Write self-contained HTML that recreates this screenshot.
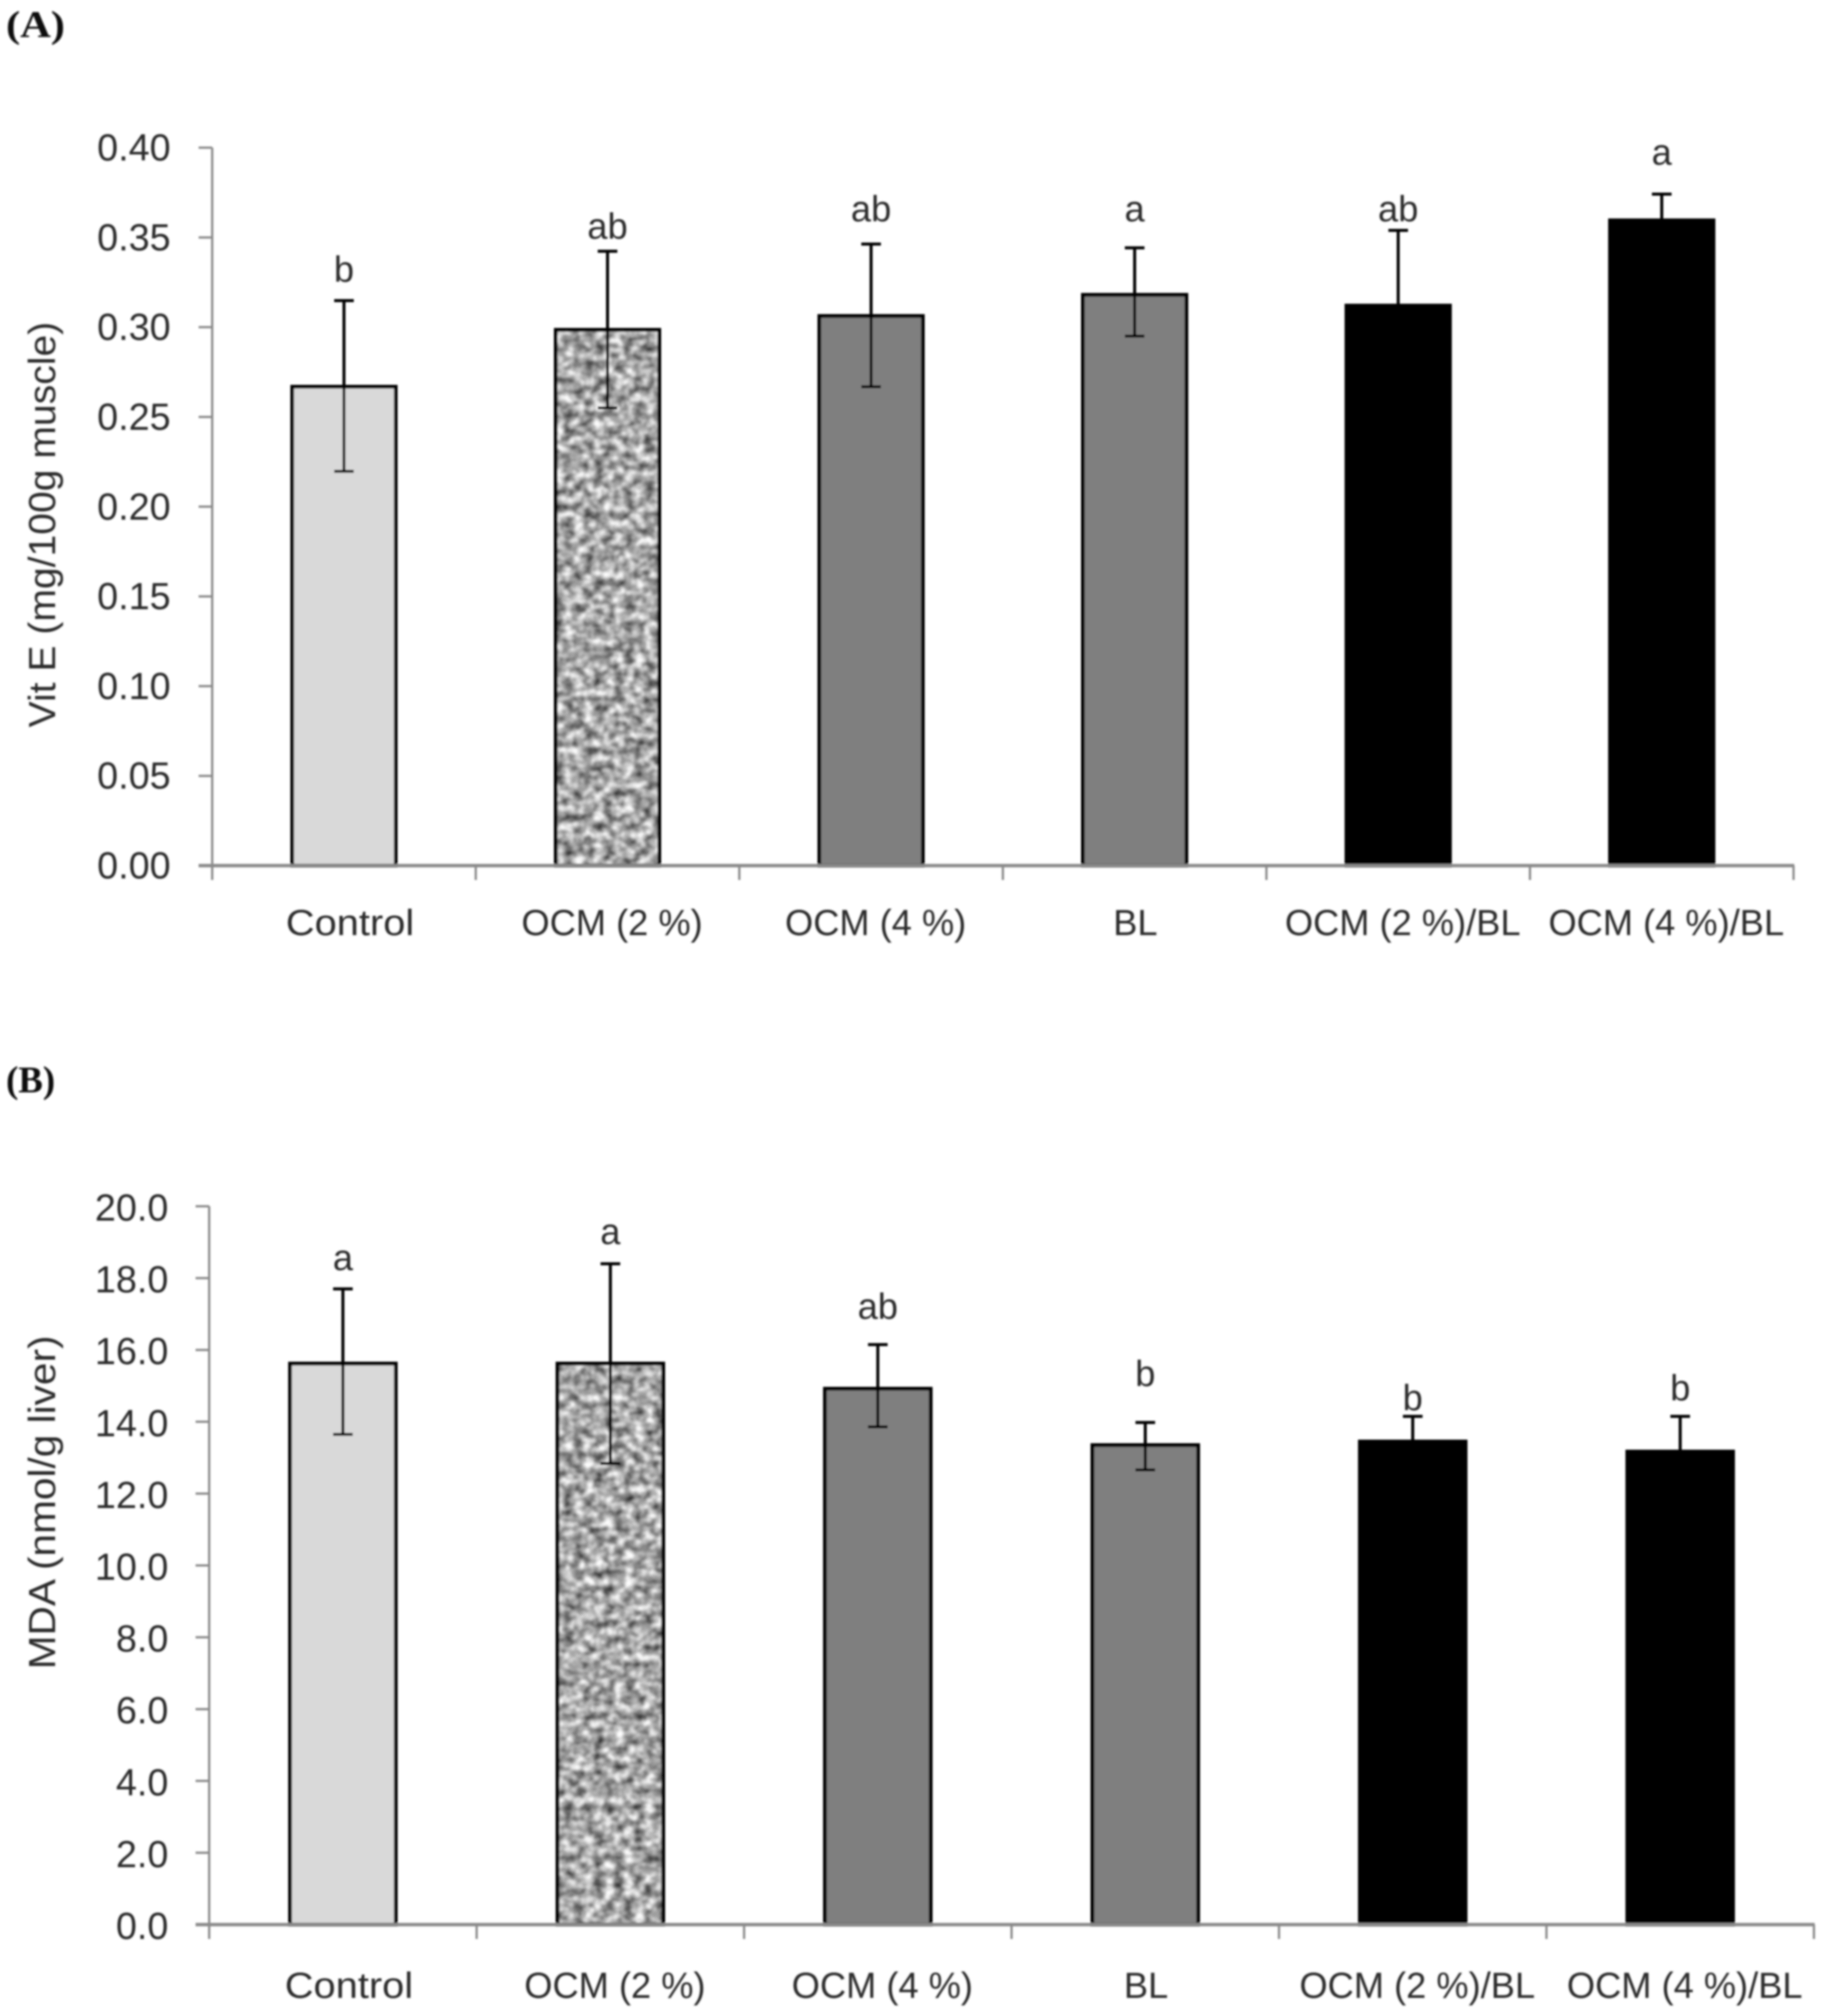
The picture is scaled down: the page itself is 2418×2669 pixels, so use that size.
<!DOCTYPE html>
<html>
<head>
<meta charset="utf-8">
<title>Vit E and MDA bar charts</title>
<style>
html,body{margin:0;padding:0;background:#fff;}
svg{display:block;}
text{font-family:"Liberation Sans",sans-serif;fill:#2b2b2b;}
</style>
</head>
<body>
<svg id="chart" xmlns="http://www.w3.org/2000/svg" width="2418" height="2669" viewBox="0 0 2418 2669">
  <defs>
    <filter id="soft" x="0" y="0" width="2418" height="2669" filterUnits="userSpaceOnUse" primitiveUnits="userSpaceOnUse">
      <feGaussianBlur stdDeviation="1.2"/>
    </filter>
    <filter id="speckle" x="0" y="0" width="1" height="1" color-interpolation-filters="sRGB">
      <feTurbulence type="fractalNoise" baseFrequency="0.075 0.09" numOctaves="3" seed="7" result="n"/>
      <feColorMatrix in="n" type="matrix" values="0 0 0 1.25 0.03  0 0 0 1.25 0.03  0 0 0 1.25 0.03  0 0 0 0 1" result="g"/>
      <feGaussianBlur in="g" stdDeviation="1.2" result="b"/>
      <feComposite in="b" in2="SourceAlpha" operator="in"/>
    </filter>
  </defs>
  <rect x="0" y="0" width="2418" height="2669" fill="#fff"/>
  <g id="root" filter="url(#soft)">
    <text x="8" y="49" font-size="50" font-weight="bold" textLength="78" lengthAdjust="spacingAndGlyphs" style="font-family:'Liberation Serif',serif;fill:#111">(A)</text>
    <text x="8" y="1446" font-size="50" font-weight="bold" textLength="65" lengthAdjust="spacingAndGlyphs" style="font-family:'Liberation Serif',serif;fill:#111">(B)</text>
    <text transform="translate(73,963) rotate(-90)" font-size="50" textLength="537" lengthAdjust="spacingAndGlyphs">Vit E (mg/100g muscle)</text>
    <text transform="translate(73,2210) rotate(-90)" font-size="50" textLength="442" lengthAdjust="spacingAndGlyphs">MDA (nmol/g liver)</text>
  </g>
</svg>
<script>
const categories = ["Control", "OCM (2 %)", "OCM (4 %)", "BL", "OCM (2 %)/BL", "OCM (4 %)/BL"];

const vitEMeans = [0.2668, 0.2985, 0.3062, 0.3180, 0.3120, 0.3595];
const vitEUpper = [0.3148, 0.3423, 0.3463, 0.3442, 0.3539, 0.3741];
const vitELower = [0.2197, 0.2550, 0.2668, 0.2950, 0.2723, 0.3480];
const vitELetters = ["b", "ab", "ab", "a", "ab", "a"];
const vitELetterLevels = [0.3253, 0.3493, 0.3590, 0.3590, 0.3590, 0.3905];
const vitETicks = ["0.00", "0.05", "0.10", "0.15", "0.20", "0.25", "0.30", "0.35", "0.40"];

const mdaMeans = [15.62, 15.62, 14.92, 13.35, 13.45, 13.17];
const mdaUpper = [17.70, 18.40, 16.15, 13.98, 14.15, 14.15];
const mdaLower = [13.65, 12.84, 13.86, 12.66, 12.80, 12.25];
const mdaLetters = ["a", "a", "ab", "b", "b", "b"];
const mdaLetterLevels = [18.22, 18.95, 16.87, 15.00, 14.32, 14.60];
const mdaTicks = ["0.0", "2.0", "4.0", "6.0", "8.0", "10.0", "12.0", "14.0", "16.0", "18.0", "20.0"];

const NS = "http://www.w3.org/2000/svg";
const root = document.getElementById("root");
const AXIS = "#8a8a8a";
const barLook = [
  { fill: "#d9d9d9", stroke: "#000" },
  { fill: "speckle", stroke: "#000" },
  { fill: "#7f7f7f", stroke: "#000" },
  { fill: "#7f7f7f", stroke: "#000" },
  { fill: "#000", stroke: "#000" },
  { fill: "#000", stroke: "#000" }
];

function make(tag, attrs, name, parent) {
  const el = document.createElementNS(NS, tag);
  for (const k in attrs) el.setAttribute(k, attrs[k]);
  
  
  (parent || root).appendChild(el);
  return el;
}

function drawPanel(p) {
  const yScale = v => p.y0 - (v - p.min) / (p.max - p.min) * (p.y0 - p.yTop);
  const band = (p.xEnd - p.x0) / categories.length;
  const xCenter = i => p.x0 + band * (i + 0.5);
  const g = make("g", {}, p.id + "-plot");

  // bars
  categories.forEach((c, i) => {
    const cx = xCenter(i);
    const top = yScale(p.means[i]);
    const look = barLook[i];
    const x = cx - p.barW / 2;
    if (look.fill === "speckle") {
      make("rect", { x: x, y: top, width: p.barW, height: p.y0 - top, fill: "#999", filter: "url(#speckle)" }, p.id + "-bar-texture-" + i, g);
      make("rect", { x: x, y: top, width: p.barW, height: p.y0 - top, fill: "none", stroke: look.stroke, "stroke-width": 5 }, p.id + "-bar-" + i, g);
    } else {
      make("rect", { x: x, y: top, width: p.barW, height: p.y0 - top, fill: look.fill, stroke: look.stroke, "stroke-width": 5 }, p.id + "-bar-" + i, g);
    }
  });

  // error bars
  categories.forEach((c, i) => {
    const cx = xCenter(i);
    const hi = yScale(p.upper[i]);
    const lo = yScale(p.lower[i]);
    make("line", { x1: cx, x2: cx, y1: hi, y2: lo, stroke: "#000", "stroke-width": 4 }, p.id + "-error-stem-" + i, g);
    make("line", { x1: cx - 13, x2: cx + 13, y1: hi, y2: hi, stroke: "#000", "stroke-width": 4 }, p.id + "-error-cap-upper-" + i, g);
    make("line", { x1: cx - 13, x2: cx + 13, y1: lo, y2: lo, stroke: "#000", "stroke-width": 4 }, p.id + "-error-cap-lower-" + i, g);
  });

  // axes
  make("line", { x1: p.x0, x2: p.x0, y1: p.yTop, y2: p.y0 + 19, stroke: AXIS, "stroke-width": 3 }, p.id + "-y-axis", g);
  make("line", { x1: p.x0 - 18, x2: p.xEnd + 1, y1: p.y0, y2: p.y0, stroke: AXIS, "stroke-width": 4.5 }, p.id + "-x-axis", g);

  // y ticks
  p.ticks.forEach((t, i) => {
    const y = yScale(parseFloat(t));
    make("line", { x1: p.x0 - 18, x2: p.x0, y1: y, y2: y, stroke: AXIS, "stroke-width": 3 }, p.id + "-y-tick-" + i, g);
    const label = make("text", { x: p.tickRight, y: y + p.tickDrop, "font-size": 50, "text-anchor": "end" }, p.id + "-y-tick-label-" + i, g);
    label.textContent = t;
  });

  // x ticks, category labels, significance letters
  categories.forEach((c, i) => {
    const edge = p.x0 + band * (i + 1);
    make("line", { x1: edge, x2: edge, y1: p.y0, y2: p.y0 + 19, stroke: AXIS, "stroke-width": 3 }, p.id + "-x-tick-" + i, g);
    const shift = c === "BL" ? 1 : 6;
    const label = make("text", { x: xCenter(i) + shift, y: p.labelY, "font-size": 48, "text-anchor": "middle" }, p.id + "-category-label-" + i, g);
    label.textContent = c;
    if (c === "Control") {
      label.setAttribute("textLength", "170");
      label.setAttribute("lengthAdjust", "spacingAndGlyphs");
      label.setAttribute("x", xCenter(i) + 8);
    }
    const letter = make("text", { x: xCenter(i), y: yScale(p.letterLevels[i]), "font-size": 48, "text-anchor": "middle" }, p.id + "-significance-letter-" + i, g);
    letter.textContent = p.letters[i];
  });
}

drawPanel({
  id: "panel-a", min: 0, max: 0.4, y0: 1146, yTop: 195.5, x0: 281, xEnd: 2375,
  barW: 137, tickRight: 226, tickDrop: 17, labelY: 1238,
  means: vitEMeans, upper: vitEUpper, lower: vitELower,
  letters: vitELetters, letterLevels: vitELetterLevels, ticks: vitETicks
});

drawPanel({
  id: "panel-b", min: 0, max: 20, y0: 2548, yTop: 1597, x0: 277, xEnd: 2402,
  barW: 140, tickRight: 223, tickDrop: 19, labelY: 2645,
  means: mdaMeans, upper: mdaUpper, lower: mdaLower,
  letters: mdaLetters, letterLevels: mdaLetterLevels, ticks: mdaTicks
});
</script>
</body>
</html>
